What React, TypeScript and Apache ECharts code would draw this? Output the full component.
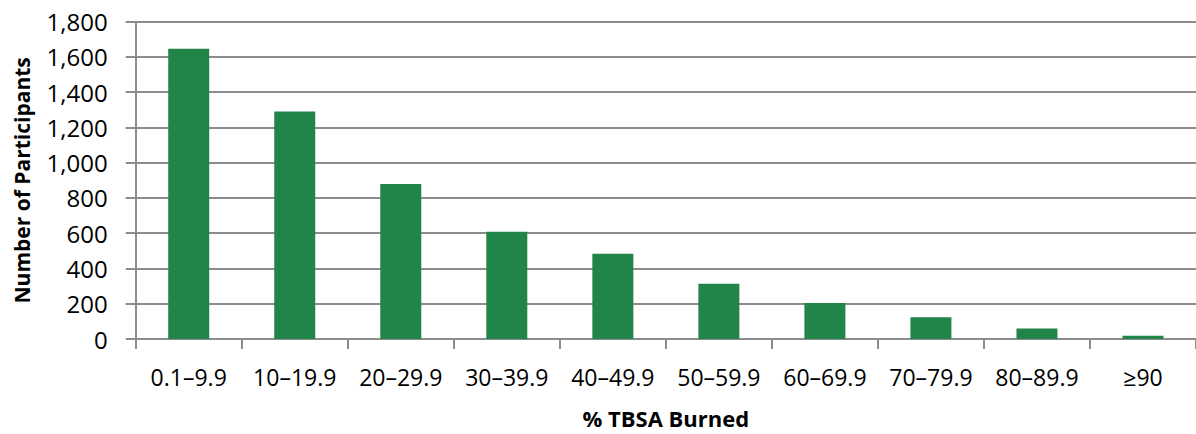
import React, { useEffect, useRef } from "react";
import * as echarts from "echarts";

// % TBSA burned groups and participant counts
const categories = [
  "0.1–9.9",
  "10–19.9",
  "20–29.9",
  "30–39.9",
  "40–49.9",
  "50–59.9",
  "60–69.9",
  "70–79.9",
  "80–89.9",
  "≥90",
];
const participants = [1647, 1290, 880, 608, 484, 314, 204, 123, 60, 19];

const yMin = 0;
const yMax = 1800;
const yStep = 200;

const FONT = "'Open Sans', 'Noto Sans', sans-serif";
const GRID_GRAY = "#8c8c8c";
const BAR_GREEN = "#21854a";

export default function App() {
  const ref = useRef<HTMLDivElement>(null);

  useEffect(() => {
    if (!ref.current) return;
    const chart = echarts.init(ref.current, undefined, { renderer: "svg" });
    chart.setOption({
      animation: false,
      backgroundColor: "#ffffff",
      grid: { left: 135.7, right: 0, top: 21.7, bottom: 91.3, containLabel: false },
      xAxis: {
        type: "category",
        data: categories,
        name: "% TBSA Burned",
        nameLocation: "middle",
        nameGap: 79,
        nameTextStyle: {
          fontFamily: FONT,
          fontWeight: "bold",
          fontSize: 22,
          color: "#000",
          verticalAlign: "middle",
        },
        axisLine: { lineStyle: { color: GRID_GRAY, width: 2 } },
        axisTick: {
          show: true,
          interval: 0,
          length: 10,
          alignWithLabel: false,
          lineStyle: { color: GRID_GRAY, width: 2 },
        },
        axisLabel: {
          interval: 0,
          hideOverlap: false,
          fontFamily: FONT,
          fontSize: 23,
          color: "#000",
          margin: 26,
        },
      },
      yAxis: {
        type: "value",
        min: yMin,
        max: yMax,
        interval: yStep,
        name: "Number of Participants",
        nameLocation: "middle",
        nameGap: 114,
        nameRotate: 90,
        nameTextStyle: {
          fontFamily: FONT,
          fontWeight: "bold",
          fontSize: 21,
          color: "#000",
          verticalAlign: "middle",
        },
        axisLine: { show: true, lineStyle: { color: GRID_GRAY, width: 2 } },
        axisTick: { show: true, length: 10, lineStyle: { color: GRID_GRAY, width: 2 } },
        splitLine: { show: true, lineStyle: { color: GRID_GRAY, width: 2 } },
        axisLabel: {
          fontFamily: FONT,
          fontSize: 24,
          color: "#000",
          margin: 28,
          formatter: (v: number) => v.toLocaleString("en-US"),
        },
      },
      series: [
        {
          type: "bar",
          data: participants,
          barWidth: 41,
          itemStyle: { color: BAR_GREEN, borderWidth: 0 },
        },
      ],
    });
    return () => chart.dispose();
  }, []);

  return (
    <div
      ref={ref}
      style={{ position: "fixed", left: 0, top: 0, width: 1196, height: 434, background: "#fff" }}
    />
  );
}
